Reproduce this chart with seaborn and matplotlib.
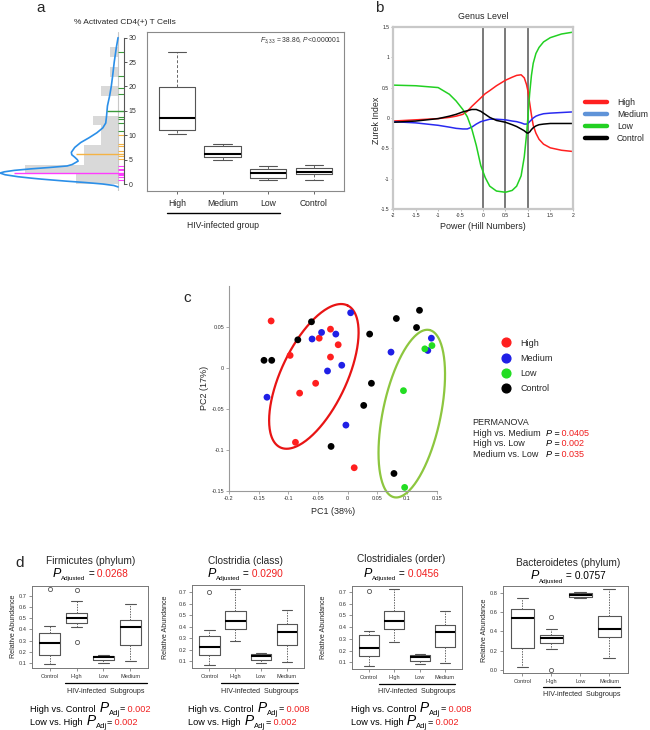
import numpy as np
import pandas as pd
import matplotlib
matplotlib.use("Agg")
import matplotlib.pyplot as plt
import matplotlib.transforms as mtransforms
from matplotlib.lines import Line2D
from matplotlib.ticker import FormatStrFormatter, FuncFormatter
import seaborn as sns

W, H = 650, 730

# ---------------- a: % activated CD4(+) T cells ----------------
a_groups = ["High", "Medium", "Low", "Control"]
# lower whisker, Q1, median, Q3, upper whisker
a_high = [10.2, 11.1, 13.6, 19.8, 27.1]
a_medium = [4.9, 5.5, 6.1, 7.8, 8.2]
a_low = [0.9, 1.3, 2.25, 3.1, 3.75]
a_control = [0.9, 2.0, 2.5, 3.3, 3.9]

# side histogram (bin start, counts) and density curve
hist_start = [0, 2, 4, 6, 8, 10, 12, 14, 16, 18, 20, 22, 24, 26]
hist_counts = [5, 11, 4, 4, 2, 2, 3, 0, 0, 2, 0, 1, 0, 1]
kde_value = [30, 28, 25, 22, 20, 18, 16, 14, 12.5, 11.5, 10.5, 9.5, 8.5, 7.5, 6.5, 6.0,
             5.5, 5.0, 4.7, 4.4, 4.0, 3.7, 3.4, 3.1, 2.8, 2.5, 2.25, 1.9, 1.5, 1.2,
             1.0, 0.6, 0.3, 0.0, -0.3, -0.6]
kde_height = [0.0, 0.2, 0.45, 0.65, 0.8, 1.0, 1.25, 1.35, 1.45, 1.8, 2.5, 3.4, 4.4, 5.1, 5.5, 5.45,
              5.1, 4.8, 4.7, 5.0, 5.4, 6.0, 8.0, 10.3, 12.2, 13.4, 13.9, 13.3, 11.8, 10.2,
              9.0, 6.2, 3.8, 1.8, 0.5, 0.0]
rug_high = [27.0, 22.2, 19.7, 18.4, 13.7, 13.3, 12.6, 10.8]
rug_medium = [10.1, 8.2, 7.7, 6.7, 5.7, 5.1]
rug_low = [3.6, 3.1, 2.8, 2.1, 1.8, 1.4, 0.9]
group_mean = [15.0, 6.2, 2.3]
mean_reach = [1.3, 4.9, 12.3]
rug_colors = ["#3c9a3c", "#f4b345", "#ff3cff"]

# ---------------- b: Zurek index vs Hill number power ----------------
b_power = [-2, -1.5, -1, -0.75, -0.6, -0.45, -0.35, -0.25, -0.15, -0.05, 0.05, 0.15, 0.3, 0.5,
           0.65, 0.75, 0.85, 0.92, 0.97, 1.0, 1.04, 1.08, 1.12, 1.18, 1.25, 1.35, 1.5, 1.75, 2]
b_high = [-0.05, -0.03, -0.01, 0.01, 0.03, 0.06, 0.11, 0.19, 0.26, 0.33, 0.4, 0.45, 0.53, 0.62,
          0.67, 0.7, 0.71, 0.66, 0.55, 0.45, 0.25, 0.05, -0.12, -0.25, -0.35, -0.43, -0.49, -0.53, -0.55]
b_medium = [-0.06, -0.08, -0.12, -0.15, -0.17, -0.18, -0.18, -0.15, -0.1, -0.06, -0.04, -0.02, -0.02, -0.03,
            -0.05, -0.06, -0.08, -0.1, -0.1, -0.09, -0.06, -0.03, 0.0, 0.03, 0.05, 0.07, 0.08, 0.09, 0.1]
b_low = [0.54, 0.53, 0.5, 0.39, 0.28, 0.14, 0.02, -0.18, -0.45, -0.78, -0.98, -1.12, -1.2, -1.22,
         -1.19, -1.12, -0.95, -0.64, -0.28, 0.0, 0.4, 0.7, 0.9, 1.06, 1.16, 1.25, 1.32, 1.38, 1.41]
b_control = [-0.07, -0.05, -0.01, 0.03, 0.06, 0.1, 0.12, 0.14, 0.14, 0.11, 0.06, 0.01, -0.04, -0.07,
             -0.11, -0.14, -0.18, -0.21, -0.24, -0.25, -0.23, -0.19, -0.16, -0.13, -0.11, -0.1, -0.09, -0.09, -0.09]
b_line_colors = {"High": "#ff2020", "Medium": "#2a2af0", "Low": "#22d022", "Control": "#000000"}
b_legend_colors = ["#ff2020", "#5f93d8", "#22d022", "#000000"]

# ---------------- c: PCoA ----------------
pc1_high = [-0.129, -0.097, -0.081, -0.088, -0.054, -0.048, -0.029, -0.029, -0.016, 0.011]
pc2_high = [0.057, 0.015, -0.031, -0.091, -0.019, 0.036, 0.047, 0.013, 0.028, -0.122]
pc1_medium = [-0.136, -0.06, -0.044, -0.02, -0.034, -0.01, 0.005, -0.003, 0.073, 0.141, 0.135]
pc2_medium = [-0.036, 0.035, 0.043, 0.041, -0.004, 0.003, 0.067, -0.07, 0.019, 0.036, 0.021]
pc1_low = [0.094, 0.13, 0.142, 0.096]
pc2_low = [-0.028, 0.023, 0.027, -0.146]
pc1_control = [-0.141, -0.128, -0.084, -0.061, 0.037, 0.082, 0.121, 0.116, 0.04, 0.027, -0.028, 0.078]
pc2_control = [0.009, 0.009, 0.034, 0.056, 0.041, 0.06, 0.07, 0.049, -0.019, -0.046, -0.096, -0.129]
pt_colors = {"High": "#ff1f1f", "Medium": "#1f1fe6", "Low": "#22dd22", "Control": "#000000"}
# ellipse: centre x, centre y, major half-axis vector (x, y), minor half-axis vector (x, y)
ell_high = [-0.057, -0.0106, 0.0566, 0.0866, -0.0498, 0.017]
ell_low = [0.108, -0.056, 0.0296, 0.102, -0.0476, 0.0072]
permanova_pairs = ["High vs. Medium", "High vs. Low", "Medium vs. Low"]
permanova_p = ["0.0405", "0.002", "0.035"]

# ---------------- d: relative abundance ----------------
d_groups = ["Control", "High", "Low", "Medium"]
firm_box = [[0.085, 0.169, 0.28, 0.364, 0.43], [0.424, 0.454, 0.499, 0.544, 0.655],
            [0.094, 0.124, 0.151, 0.163, 0.169], [0.115, 0.259, 0.424, 0.484, 0.628]]
firm_out = [[0.76], [0.754, 0.283], [], []]
clos_box = [[0.065, 0.155, 0.225, 0.32, 0.37], [0.277, 0.378, 0.45, 0.538, 0.723],
            [0.085, 0.109, 0.144, 0.158, 0.167], [0.091, 0.236, 0.355, 0.419, 0.545]]
clos_out = [[0.70], [], [], []]
clor_box = [[0.07, 0.155, 0.225, 0.33, 0.37], [0.276, 0.381, 0.455, 0.538, 0.726],
            [0.086, 0.114, 0.148, 0.16, 0.171], [0.092, 0.234, 0.362, 0.419, 0.541]]
clor_out = [[0.71], [], [], []]
bact_box = [[0.028, 0.224, 0.534, 0.631, 0.741], [0.214, 0.276, 0.328, 0.362, 0.42],
            [0.741, 0.752, 0.772, 0.793, 0.803], [0.121, 0.345, 0.421, 0.559, 0.834]]
bact_out = [[], [0.552, 0.0], [], []]
d_titles = ["Firmicutes (phylum)", "Clostridia (class)", "Clostridiales (order)", "Bacteroidetes (phylum)"]
d_padj = ["0.0268", "0.0290", "0.0456", "0.0757"]
d_high_ctrl = ["0.002", "0.008", "0.008"]
d_low_high = ["0.002", "0.002", "0.002"]

RED = "#f01e1e"

sns.set_theme(style="white")
plt.rcParams["font.family"] = ["Liberation Sans", "DejaVu Sans"]
plt.rcParams["axes.unicode_minus"] = False
plt.rcParams["mathtext.fontset"] = "custom"
plt.rcParams["mathtext.rm"] = "Liberation Sans"
plt.rcParams["mathtext.it"] = "Liberation Sans:italic"

fig = plt.figure(figsize=(W / 100, H / 100), dpi=100)
PX = mtransforms.Affine2D().scale(1, -1).translate(0, H)   # pixel coords, origin top-left


def frect(x0, y0, x1, y1):
    return [x0 / W, 1 - y1 / H, (x1 - x0) / W, (y1 - y0) / H]


def hline_px(x0, x1, y, lw=1.0, color="black"):
    fig.add_artist(Line2D([x0, x1], [y, y], transform=PX, lw=lw, color=color))


def rich_text(x, y, parts, ha="left"):
    renderer = fig.canvas.get_renderer()
    made, cursor = [], x
    for s, size, color, style, dy in parts:
        t = fig.text(cursor, y + dy, s, transform=PX, fontsize=size, color=color,
                     style=style, ha="left", va="baseline")
        cursor += t.get_window_extent(renderer).width
        made.append(t)
    if ha == "center":
        shift = (cursor - x) / 2
        for t in made:
            t.set_x(t.get_position()[0] - shift)


def draw_boxes(ax, boxes, outliers, med_lw=1.6, ls=(0, (2.5, 1.5))):
    stats = [dict(whislo=b[0], q1=b[1], med=b[2], q3=b[3], whishi=b[4], fliers=o)
             for b, o in zip(boxes, outliers)]
    ax.bxp(stats, positions=[1, 2, 3, 4], widths=0.8,
           boxprops=dict(color="#555555", linewidth=0.8),
           whiskerprops=dict(color="#666666", linewidth=0.7, linestyle=ls),
           capprops=dict(color="#555555", linewidth=0.8),
           medianprops=dict(color="black", linewidth=med_lw),
           flierprops=dict(marker="o", markerfacecolor="none", markeredgecolor="#555555",
                           markersize=3, markeredgewidth=0.6))
    ax.set_xlim(0.34, 4.66)


# ================= panel a =================
ax_hist = fig.add_axes(frect(0, 32.3, 124, 190.7))
ax_hist.barh(hist_start, hist_counts, height=2, align="edge", color="#d9d9d9", linewidth=0)
ax_hist.axvline(0, color="#c8c8c8", lw=0.8)
sns.lineplot(x=kde_height, y=kde_value, sort=False, estimator=None, color="#2b8fe8", lw=1.2, ax=ax_hist)
for vals, col in zip([rug_high, rug_medium, rug_low], rug_colors):
    ax_hist.hlines(vals, -0.05, -0.7, colors=col, lw=0.8)
ax_hist.hlines(group_mean, mean_reach, -0.7, colors=rug_colors, lw=1.0)
ax_hist.set_xlim(13.9, -0.7)
ax_hist.set_ylim(-1.37, 31.1)
for side in ["left", "top", "bottom"]:
    ax_hist.spines[side].set_visible(False)
ax_hist.spines["right"].set_bounds(0, 30)
ax_hist.spines["right"].set_color("#555555")
ax_hist.spines["right"].set_linewidth(0.8)
ax_hist.yaxis.tick_right()
ax_hist.set_yticks([0, 5, 10, 15, 20, 25, 30])
ax_hist.set_xticks([])
ax_hist.tick_params(axis="y", right=True, direction="out", length=2.4, width=0.7, pad=1,
                    labelsize=5, colors="#555555", labelcolor="#333333")

ax_box = fig.add_axes(frect(146.7, 32.3, 344, 190.7))
draw_boxes(ax_box, [a_high, a_medium, a_low, a_control], [[], [], [], []], med_lw=1.5,
           ls=(0, (3, 2)))
ax_box.set_ylim(-1.37, 31.1)
ax_box.set_yticks([])
ax_box.set_xticks([1, 2, 3, 4], a_groups)
ax_box.tick_params(axis="x", bottom=True, direction="out", length=2.5, width=0.7, pad=3.5,
                   labelsize=6.2, color="#666666")
for sp in ax_box.spines.values():
    sp.set_color("#8a8a8a")
    sp.set_linewidth(0.8)

fig.text(341, 42, r"$F_{3,33}$ = 38.86, $P$<0.000001", transform=PX, ha="right",
         va="baseline", fontsize=4.9, color="#333333")
fig.text(125, 24.5, "% Activated CD4(+) T Cells", transform=PX, ha="center", va="baseline", fontsize=6)
hline_px(166.7, 280, 213, lw=1.0)
fig.text(223.3, 228.5, "HIV-infected group", transform=PX, ha="center", va="baseline", fontsize=6.2)
fig.text(41, 12.5, "a", transform=PX, ha="center", va="baseline", fontsize=11)

# ================= panel b =================
ax_b = fig.add_axes(frect(393.3, 26.7, 572.7, 209.3))
df_b = pd.DataFrame({
    "power": b_power * 4,
    "zurek": b_high + b_medium + b_low + b_control,
    "group": ["High"] * len(b_power) + ["Medium"] * len(b_power)
             + ["Low"] * len(b_power) + ["Control"] * len(b_power),
})
for v in [0, 0.5, 1]:
    ax_b.axvline(v, color="#6e6e6e", lw=1.3, zorder=0)
sns.lineplot(data=df_b, x="power", y="zurek", hue="group", palette=b_line_colors,
             estimator=None, lw=1.1, legend=False, ax=ax_b)
ax_b.set_xlim(-2, 2)
ax_b.set_ylim(-1.5, 1.5)
ax_b.set_xticks([-2, -1.5, -1, -0.5, 0, 0.5, 1, 1.5, 2])
ax_b.set_yticks([-1.5, -1, -0.5, 0, 0.5, 1, 1.5])
gfmt = FuncFormatter(lambda v, p: "%g" % v)
ax_b.xaxis.set_major_formatter(gfmt)
ax_b.yaxis.set_major_formatter(gfmt)
ax_b.tick_params(labelsize=3.6, length=1.5, width=0.5, pad=1.5, bottom=True, left=True,
                 direction="out", color="#999999")
for sp in ax_b.spines.values():
    sp.set_color("#c8c8c8")
    sp.set_linewidth(1.6)
ax_b.set_title("Genus Level", fontsize=6.4, pad=5.3)
ax_b.set_xlabel("Power (Hill Numbers)", fontsize=6.5, va="center")
ax_b.xaxis.set_label_coords(483, 226.7, transform=PX)
ax_b.set_ylabel("Zurek Index", fontsize=6.4, va="center")
ax_b.yaxis.set_label_coords(376.7, 120, transform=PX)
handles_b = [Line2D([], [], color=c, lw=3.2) for c in b_legend_colors]
ax_b.legend(handles_b, ["High", "Medium", "Low", "Control"], loc="upper left",
            bbox_to_anchor=(585, 98), bbox_transform=PX, frameon=False, fontsize=6.2,
            handlelength=2.6, handletextpad=1.1, labelspacing=0.33, borderpad=0, borderaxespad=0)
fig.text(379.7, 12.5, "b", transform=PX, ha="center", va="baseline", fontsize=11)

# ================= panel c =================
ax_c = fig.add_axes(frect(229, 285.7, 436.7, 490.7))
df_c = pd.DataFrame({
    "PC1": pc1_high + pc1_medium + pc1_low + pc1_control,
    "PC2": pc2_high + pc2_medium + pc2_low + pc2_control,
    "group": ["High"] * len(pc1_high) + ["Medium"] * len(pc1_medium)
             + ["Low"] * len(pc1_low) + ["Control"] * len(pc1_control),
})
sns.scatterplot(data=df_c, x="PC1", y="PC2", hue="group", palette=pt_colors, s=24,
                linewidth=0, legend=False, ax=ax_c, clip_on=False, zorder=3)
t = np.linspace(0, 2 * np.pi, 240)
for ell, col in [(ell_high, "#e81414"), (ell_low, "#8dc63f")]:
    ex = ell[0] + ell[2] * np.cos(t) + ell[4] * np.sin(t)
    ey = ell[1] + ell[3] * np.cos(t) + ell[5] * np.sin(t)
    ax_c.plot(ex, ey, color=col, lw=1.6, clip_on=False, zorder=2)
ax_c.set_xlim(-0.2, 0.15)
ax_c.set_ylim(-0.15, 0.1)
ax_c.set_xticks([-0.2, -0.15, -0.1, -0.05, 0, 0.05, 0.1, 0.15])
ax_c.set_yticks([-0.15, -0.1, -0.05, 0, 0.05])
ax_c.xaxis.set_major_formatter(gfmt)
ax_c.yaxis.set_major_formatter(gfmt)
ax_c.tick_params(labelsize=4, length=2, width=0.5, pad=1.5, bottom=True, left=True,
                 direction="out", color="#888888", labelcolor="#333333")
for side in ["top", "right"]:
    ax_c.spines[side].set_visible(False)
for side in ["left", "bottom"]:
    ax_c.spines[side].set_color("#9a9a9a")
    ax_c.spines[side].set_linewidth(0.8)
ax_c.set_xlabel("PC1 (38%)", fontsize=6.5, va="center")
ax_c.xaxis.set_label_coords(332.7, 512, transform=PX)
ax_c.set_ylabel("PC2 (17%)", fontsize=6.5, va="center")
ax_c.yaxis.set_label_coords(204.7, 387.5, transform=PX)
handles_c = [Line2D([], [], marker="o", ls="", color=pt_colors[g], markersize=6.3)
             for g in ["High", "Medium", "Low", "Control"]]
ax_c.legend(handles_c, ["High", "Medium", "Low", "Control"], loc="upper left",
            bbox_to_anchor=(502.4, 338.5), bbox_transform=PX, frameon=False, fontsize=6.5,
            handlelength=0.8, handletextpad=1.23, labelspacing=0.7, borderpad=0, borderaxespad=0)
fig.text(472.7, 425, "PERMANOVA", transform=PX, ha="left", va="baseline", fontsize=6.5)
for i, (pair, pv) in enumerate(zip(permanova_pairs, permanova_p)):
    yb = 436 + i * 10.5
    fig.text(472.7, yb, pair, transform=PX, ha="left", va="baseline", fontsize=6.5)
    rich_text(545.7, yb, [("P", 6.5, "black", "italic", 0), (" =", 6.5, "black", "normal", 0),
                          (" " + pv, 6.5, RED, "normal", 0)])
fig.text(187, 301.5, "c", transform=PX, ha="center", va="baseline", fontsize=11)

# ================= panel d =================
d_rects = [(31.7, 585.7, 148.3, 668.3), (192.3, 585, 304, 668.3),
           (352.3, 586, 461.7, 669.3), (503.3, 585.5, 628.3, 673.3)]
d_ylims = [(0.05, 0.793), (0.037, 0.761), (0.041, 0.751), (-0.034, 0.874)]
d_title_x = [90.7, 245, 401, 567.7]
d_title_y = [563.5, 563.5, 562.5, 565.5]
d_p_y = [576.7, 576.7, 576.7, 579.3]
d_under = [(65, 146.7, 683.3), (220.7, 298.3, 683.3), (379.3, 455, 684), (543.3, 620, 687.3)]
d_hiv_x = [106, 259.5, 417, 581.7]
d_hiv_y = [693, 692.7, 692.7, 695.5]
d_ylab = [(13.3, 626.7), (165.8, 627.5), (323.5, 627.5), (484.2, 630)]
d_bottom_x = [30, 188.3, 350.7]
d_boxes = [firm_box, clos_box, clor_box, bact_box]
d_outs = [firm_out, clos_out, clor_out, bact_out]

for i in range(4):
    ax = fig.add_axes(frect(*d_rects[i]))
    draw_boxes(ax, d_boxes[i], d_outs[i], med_lw=1.5, ls=(0, (1.5, 1.2)))
    ax.set_ylim(*d_ylims[i])
    if i < 3:
        ax.set_yticks([0.1, 0.2, 0.3, 0.4, 0.5, 0.6, 0.7])
    else:
        ax.set_yticks([0.0, 0.2, 0.4, 0.6, 0.8])
    ax.yaxis.set_major_formatter(FormatStrFormatter("%.1f"))
    ax.set_xticks([1, 2, 3, 4], d_groups)
    ax.tick_params(labelsize=4.1, length=2, width=0.5, pad=1.8, bottom=True, left=True,
                   direction="out", color="#666666", labelcolor="#333333")
    for sp in ax.spines.values():
        sp.set_color("#777777")
        sp.set_linewidth(0.7)
    ax.set_ylabel("Relative Abundance", fontsize=5.1, va="center")
    ax.yaxis.set_label_coords(*d_ylab[i], transform=PX)

    fig.text(d_title_x[i], d_title_y[i], d_titles[i], transform=PX, ha="center",
             va="baseline", fontsize=7.3)
    pcol = RED if i < 3 else "black"
    rich_text(d_title_x[i], d_p_y[i], [("P", 9, "black", "italic", 0),
                                       ("Adjusted", 4.5, "black", "normal", 3.5),
                                       (" =", 7.3, "black", "normal", 0),
                                       (" " + d_padj[i], 7.3, pcol, "normal", 0)], ha="center")
    x0, x1, yu = d_under[i]
    hline_px(x0, x1, yu, lw=0.9)
    fig.text(d_hiv_x[i], d_hiv_y[i], "HIV-infected  Subgroups", transform=PX, ha="center",
             va="baseline", fontsize=5.1)
    if i < 3:
        for label, pv, yb in [("High vs. Control", d_high_ctrl[i], 711.5),
                              ("Low vs. High", d_low_high[i], 725)]:
            rich_text(d_bottom_x[i], yb, [(label, 6.6, "black", "normal", 0),
                                          (" P", 10, "black", "italic", 0),
                                          ("Adj", 5.5, "black", "normal", 3.5),
                                          ("=", 6.6, "black", "normal", 0),
                                          (" " + pv, 6.6, RED, "normal", 0)])

fig.text(19.5, 567, "d", transform=PX, ha="center", va="baseline", fontsize=11)

fig.savefig("out.png", dpi=100)
